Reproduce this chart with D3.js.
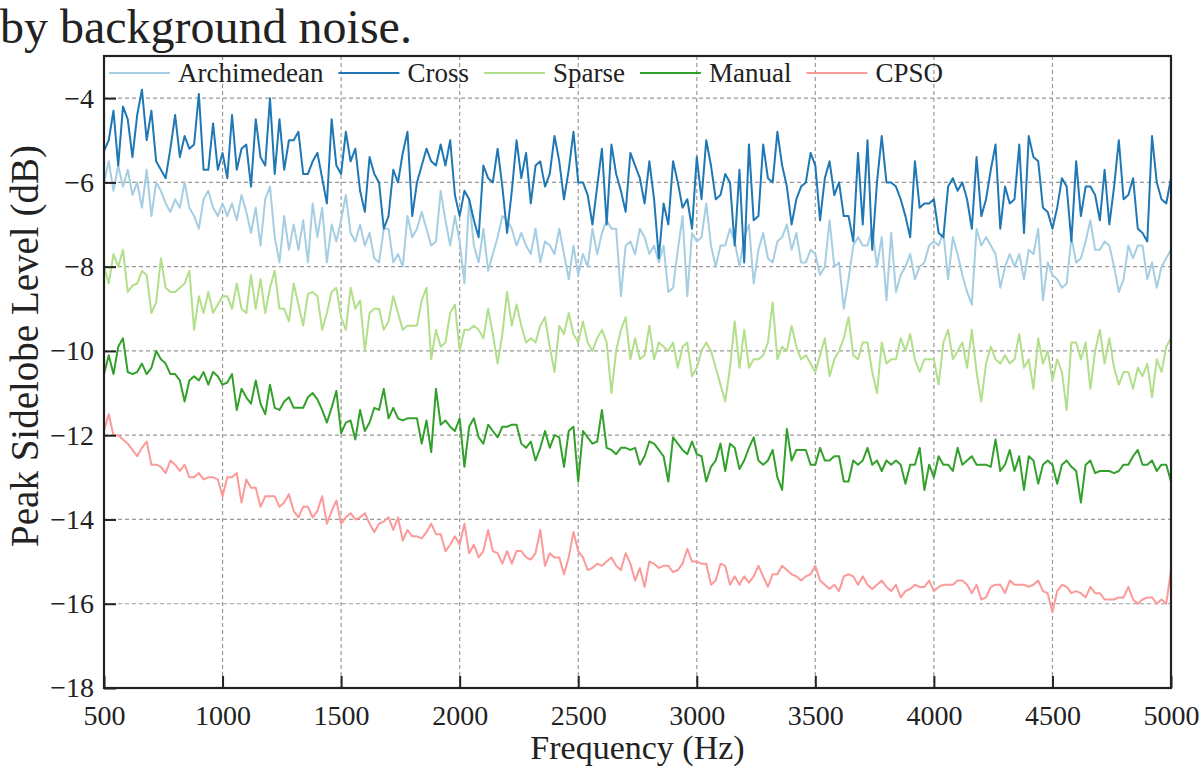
<!DOCTYPE html>
<html>
<head>
<meta charset="utf-8">
<script src="https://cdn.jsdelivr.net/npm/d3@7"></script>
<style>
  html, body { margin: 0; padding: 0; background: #fff; }
  svg { display: block; font-family: "Liberation Serif", "Times New Roman", serif; }
  .grid line { stroke: #9a9a9a; stroke-width: 1.2; stroke-dasharray: 4,3; }
  .axis text { fill: #222; font-size: 28px; font-family: "Liberation Serif", "Times New Roman", serif; }
  .axis line { stroke: #222; stroke-width: 2; }
  .axis path { display: none; }
</style>
</head>
<body>
<svg id="chart"></svg>
<script>
// Frequency sampling: 500 Hz to 5000 Hz, one point every 20 Hz
const F_START = 500;
const F_END   = 5000;
const F_STEP  = 20;

const SERIES_NAMES  = ["Archimedean", "Cross", "Sparse", "Manual", "CPSO"];
const SERIES_COLORS = ["#a6cee3", "#1f78b4", "#b2df8a", "#33a02c", "#fb9a99"];

const X_TICKS = [500, 1000, 1500, 2000, 2500, 3000, 3500, 4000, 4500, 5000];
const Y_TICKS = [-18, -16, -14, -12, -10, -8, -6, -4];

// Peak sidelobe level (dB), rows of 200 Hz
const archimedean = [
  -6.0, -5.5, -6.2, -5.6, -6.1, -5.7, -6.3, -6.0, -6.6, -5.7,
  -6.8, -6.0, -6.2, -6.5, -6.7, -6.4, -6.6, -6.0, -6.6, -6.8,
  -7.1, -6.4, -6.2, -6.6, -6.8, -6.5, -6.8, -6.5, -6.9, -6.3,
  -6.7, -7.2, -6.6, -7.5, -6.4, -6.1, -7.3, -7.9, -6.8, -7.6,
  -7.0, -7.6, -6.9, -7.9, -6.5, -7.3, -6.6, -7.9, -7.0, -7.4,
  -6.9, -6.3, -7.2, -7.4, -7.0, -7.5, -7.2, -7.8, -7.9, -7.1,
  -7.1, -7.9, -7.7, -8.0, -6.8, -7.3, -7.1, -6.7, -7.1, -7.5,
  -7.4, -6.2, -6.9, -7.5, -6.8, -7.4, -8.4, -6.4, -7.5, -7.9,
  -7.1, -8.1, -7.7, -7.3, -6.8, -6.9, -7.1, -7.5, -7.2, -7.5,
  -7.7, -7.1, -7.9, -7.4, -7.5, -7.7, -7.1, -7.7, -8.3, -7.5,
  -8.2, -7.7, -8.0, -7.1, -7.7, -7.2, -6.9, -7.1, -7.1, -8.7,
  -7.5, -7.4, -7.7, -7.1, -7.3, -7.7, -7.5, -7.9, -7.5, -8.6,
  -8.5, -7.6, -6.8, -8.7, -7.2, -7.4, -7.3, -6.5, -7.5, -8.0,
  -7.5, -7.5, -7.1, -7.4, -8.0, -7.3, -7.0, -8.4, -7.6, -7.2,
  -7.8, -7.9, -7.4, -7.3, -7.0, -7.6, -7.2, -7.9, -7.9, -7.6,
  -7.7, -8.2, -8.0, -6.9, -8.0, -7.9, -9.0, -8.3, -7.5, -7.3,
  -7.5, -7.5, -7.1, -8.0, -7.3, -8.8, -7.2, -8.6, -8.2, -8.0,
  -7.7, -8.3, -8.0, -7.9, -7.5, -7.4, -7.5, -7.2, -8.3, -7.3,
  -7.7, -8.2, -8.6, -8.9, -7.1, -7.5, -7.3, -7.5, -7.7, -8.5,
  -8.0, -7.7, -8.0, -7.7, -8.3, -7.6, -7.7, -7.1, -8.8, -7.9,
  -8.2, -8.3, -8.5, -8.4, -7.3, -7.9, -7.8, -7.4, -6.9, -7.6,
  -7.6, -7.4, -7.5, -8.0, -8.6, -8.3, -7.5, -7.8, -7.5, -7.5,
  -8.3, -7.9, -8.5, -8.0, -7.8, -7.6
];

const cross = [
  -5.25, -5.0, -4.3, -5.6, -4.2, -4.5, -5.4, -4.4, -3.8, -5.0,
  -4.3, -5.5, -5.7, -5.9, -5.2, -4.4, -5.4, -4.9, -5.2, -5.1,
  -3.9, -5.7, -5.7, -4.6, -5.7, -5.3, -5.9, -4.4, -5.7, -5.2,
  -5.1, -6.1, -4.5, -5.4, -5.6, -4.0, -5.8, -4.5, -5.7, -5.0,
  -5.0, -4.8, -5.8, -5.8, -5.5, -5.3, -5.9, -6.5, -4.5, -5.6,
  -5.8, -4.8, -5.5, -5.2, -6.2, -6.7, -5.4, -5.8, -6.0, -7.1,
  -6.8, -5.7, -6.0, -5.3, -4.8, -6.8, -6.0, -5.6, -5.2, -5.5,
  -5.6, -5.1, -5.6, -5.0, -6.3, -6.8, -6.2, -6.4, -6.9, -7.3,
  -5.6, -5.9, -6.0, -5.2, -6.1, -7.2, -6.2, -5.0, -5.9, -5.3,
  -6.5, -5.6, -5.5, -6.1, -5.8, -4.9, -5.5, -6.4, -5.7, -4.8,
  -6.0, -6.0, -6.3, -7.0, -6.1, -5.2, -7.0, -5.1, -5.8, -6.2,
  -6.7, -5.3, -5.6, -5.9, -6.5, -5.5, -6.4, -7.8, -6.5, -7.0,
  -5.5, -6.0, -6.6, -6.4, -7.1, -5.4, -6.4, -5.0, -5.6, -6.4,
  -6.3, -5.8, -6.0, -7.5, -5.7, -7.9, -5.1, -6.9, -6.8, -5.1,
  -5.9, -6.0, -4.8, -5.6, -6.1, -7.0, -6.4, -6.1, -6.0, -5.3,
  -5.6, -6.9, -5.9, -5.5, -6.3, -6.0, -6.8, -6.8, -7.4, -5.3,
  -7.0, -5.0, -7.6, -6.0, -4.9, -6.0, -6.0, -6.1, -6.4, -6.8,
  -7.3, -5.5, -6.6, -6.5, -6.5, -6.4, -7.2, -7.3, -6.1, -5.9,
  -6.2, -6.0, -6.4, -7.1, -5.4, -6.8, -6.4, -5.7, -5.1, -7.1,
  -6.1, -6.5, -6.4, -5.1, -7.2, -4.9, -5.4, -5.5, -6.6, -6.7,
  -7.1, -6.6, -5.9, -6.1, -7.4, -5.5, -6.8, -6.1, -6.1, -6.3,
  -6.9, -5.7, -7.0, -6.1, -5.0, -6.4, -6.3, -5.9, -7.1, -7.2,
  -7.4, -4.9, -6.0, -6.4, -6.5, -5.9
];

const sparse = [
  -8.0, -8.4, -7.7, -8.0, -7.6, -8.6, -8.45, -8.4, -8.1, -8.2,
  -9.1, -8.85, -7.8, -8.5, -8.6, -8.6, -8.5, -8.4, -8.1, -9.5,
  -8.7, -9.1, -8.6, -9.1, -8.9, -8.7, -8.7, -9.0, -8.4, -9.0,
  -9.1, -8.2, -9.0, -8.3, -9.1, -8.5, -8.1, -9.0, -9.0, -9.3,
  -8.4, -8.9, -9.4, -8.65, -8.6, -8.7, -9.5, -9.1, -8.6, -8.5,
  -9.2, -9.5, -8.5, -9.0, -8.8, -10.0, -9.1, -9.0, -9.0, -9.5,
  -9.3, -8.7, -9.1, -9.5, -9.4, -9.4, -9.4, -8.8, -8.5, -10.2,
  -9.5, -9.9, -9.8, -9.1, -8.9, -10.0, -9.5, -9.5, -9.4, -9.5,
  -9.7, -9.0, -9.6, -10.3, -9.6, -8.6, -9.4, -8.9, -9.4, -9.8,
  -9.7, -9.8, -9.4, -9.2, -9.9, -10.5, -9.4, -9.6, -9.1, -9.6,
  -9.8, -9.3, -9.8, -10.0, -9.7, -9.5, -9.8, -11.0, -10.0, -9.5,
  -9.2, -10.2, -9.7, -10.2, -10.1, -9.4, -10.2, -9.8, -9.9, -10.0,
  -9.8, -10.4, -9.9, -9.8, -10.6, -10.4, -10.0, -9.8, -10.0, -10.4,
  -10.8, -11.2, -10.4, -9.3, -10.4, -9.5, -10.4, -10.2, -10.2, -10.1,
  -9.8, -8.85, -10.2, -9.9, -10.0, -9.4, -9.9, -10.2, -10.1, -10.3,
  -10.5, -10.1, -9.7, -10.6, -10.2, -10.0, -9.7, -9.2, -10.1, -10.2,
  -9.8, -9.8, -10.5, -11.0, -9.8, -10.3, -10.2, -10.2, -9.7, -10.0,
  -9.6, -10.2, -10.5, -10.2, -10.2, -10.2, -10.8, -9.8, -9.5, -10.2,
  -10.0, -9.8, -10.4, -9.5, -10.5, -11.2, -10.3, -9.9, -10.2, -10.3,
  -10.1, -10.3, -10.2, -9.6, -10.4, -10.2, -10.9, -9.7, -10.3, -10.0,
  -10.7, -10.2, -10.5, -11.4, -9.8, -9.8, -10.2, -9.8, -10.9, -10.0,
  -9.5, -10.3, -9.7, -10.4, -10.8, -10.5, -10.5, -10.9, -10.4, -10.6,
  -10.3, -11.1, -10.2, -10.5, -9.9, -9.7
];

const manual = [
  -10.55, -10.1, -10.55, -9.9, -9.7, -10.5, -10.55, -10.5, -10.3, -10.55,
  -10.4, -10.0, -10.2, -10.3, -10.55, -10.55, -10.7, -11.2, -10.7, -10.6,
  -10.7, -10.5, -10.8, -10.5, -10.6, -10.8, -10.75, -10.55, -11.4, -10.9,
  -11.1, -11.25, -10.7, -11.25, -11.5, -10.8, -11.35, -11.4, -11.2, -11.1,
  -11.35, -11.35, -11.35, -11.1, -11.0, -11.15, -11.4, -11.7, -11.35, -10.95,
  -11.95, -11.7, -11.65, -12.1, -11.4, -11.9, -11.7, -11.35, -11.4, -10.9,
  -11.6, -11.35, -11.6, -11.65, -11.6, -11.6, -11.6, -12.2, -11.65, -12.4,
  -10.9, -11.75, -11.65, -11.8, -11.9, -11.6, -12.75, -11.8, -11.6, -12.05,
  -12.2, -11.75, -11.9, -12.05, -11.8, -11.8, -11.75, -11.75, -12.2, -12.3,
  -12.15, -12.6, -12.3, -11.9, -12.3, -12.0, -12.05, -12.75, -11.9, -11.8,
  -13.1, -11.9, -12.05, -12.2, -12.15, -11.4, -12.3, -12.35, -12.45, -12.3,
  -12.3, -12.35, -12.3, -12.7, -12.5, -12.15, -12.2, -12.35, -12.5, -13.1,
  -12.05, -12.2, -12.35, -12.45, -12.15, -12.45, -12.5, -13.1, -12.75, -12.6,
  -12.2, -12.85, -12.2, -12.3, -12.8, -12.6, -12.3, -12.05, -12.6, -12.7,
  -12.6, -12.35, -13.0, -13.3, -11.85, -12.6, -12.35, -12.35, -12.35, -12.7,
  -12.7, -12.3, -12.6, -12.6, -12.5, -12.5, -13.1, -13.1, -12.6, -12.7,
  -12.6, -12.3, -12.7, -12.6, -12.85, -12.6, -12.7, -12.6, -12.7, -13.15,
  -12.7, -12.7, -12.3, -13.3, -12.7, -13.0, -12.5, -12.7, -12.7, -12.85,
  -12.3, -12.7, -12.6, -12.5, -12.7, -12.7, -12.7, -12.75, -12.1, -12.85,
  -12.7, -12.35, -12.85, -12.5, -13.3, -12.5, -12.6, -13.15, -12.7, -12.6,
  -12.7, -13.15, -12.7, -12.6, -12.75, -12.85, -13.6, -12.7, -12.6, -12.9,
  -12.85, -12.85, -12.85, -12.9, -12.85, -12.7, -12.7, -12.5, -12.35, -12.7,
  -12.7, -12.6, -12.85, -12.7, -12.7, -13.1
];

const cpso = [
  -11.9, -11.5, -12.0, -12.0, -12.1, -12.2, -12.35, -12.5, -12.3, -12.15,
  -12.7, -12.7, -12.75, -12.9, -12.6, -12.7, -12.85, -12.7, -13.0, -13.0,
  -12.9, -13.05, -13.0, -13.0, -13.05, -13.45, -13.0, -13.0, -12.9, -13.6,
  -13.05, -13.25, -13.25, -13.7, -13.45, -13.45, -13.45, -13.7, -13.6, -13.4,
  -13.8, -13.95, -13.7, -13.7, -13.95, -13.8, -13.45, -14.1, -13.8, -13.55,
  -14.1, -13.95, -13.85, -14.0, -13.95, -13.85, -14.1, -14.3, -14.1, -14.05,
  -13.95, -14.25, -13.95, -14.5, -14.25, -14.4, -14.4, -14.45, -14.3, -14.1,
  -14.35, -14.35, -14.75, -14.6, -14.4, -14.6, -14.1, -14.8, -14.6, -14.9,
  -14.75, -14.25, -14.75, -14.8, -15.05, -14.75, -15.05, -14.75, -14.75, -14.9,
  -14.95, -14.8, -14.25, -15.1, -14.8, -14.9, -14.9, -15.3, -14.9, -14.3,
  -14.75, -14.9, -15.2, -15.15, -15.05, -15.1, -15.0, -14.9, -15.1, -15.2,
  -14.8, -15.05, -15.45, -15.15, -15.6, -15.0, -15.05, -15.15, -15.1, -15.1,
  -15.25, -15.2, -15.05, -14.7, -15.0, -15.0, -15.05, -15.05, -15.55, -15.45,
  -15.05, -15.1, -15.55, -15.35, -15.55, -15.35, -15.5, -15.35, -15.1, -15.35,
  -15.6, -15.3, -15.3, -15.1, -15.2, -15.3, -15.35, -15.45, -15.35, -15.3,
  -15.1, -15.45, -15.55, -15.65, -15.55, -15.7, -15.35, -15.3, -15.35, -15.55,
  -15.35, -15.55, -15.65, -15.55, -15.45, -15.6, -15.7, -15.55, -15.85, -15.7,
  -15.65, -15.55, -15.6, -15.6, -15.45, -15.7, -15.6, -15.55, -15.55, -15.55,
  -15.45, -15.45, -15.55, -15.75, -15.55, -15.9, -15.85, -15.6, -15.55, -15.55,
  -15.75, -15.45, -15.55, -15.55, -15.55, -15.6, -15.55, -15.45, -15.7, -15.75,
  -16.2, -15.7, -15.55, -15.6, -15.75, -15.7, -15.75, -15.85, -15.6, -15.75,
  -15.75, -15.9, -15.9, -15.9, -15.85, -15.85, -15.6, -15.9, -16.0, -15.9,
  -15.85, -15.85, -16.0, -15.9, -16.0, -15.2
];

const SERIES_VALUES = [archimedean, cross, sparse, manual, cpso];

const SVG_W = 1200;
const SVG_H = 769;
const PLOT = { left: 104, right: 1171, top: 56, bottom: 688 };

const FONT = '"Liberation Serif", "Times New Roman", serif';

const freqs = d3.range(F_START, F_END + 1, F_STEP);

const x = d3.scaleLinear().domain([F_START, F_END]).range([PLOT.left, PLOT.right]);
const y = d3.scaleLinear().domain([-18, -3]).range([PLOT.bottom, PLOT.top]);

const svg = d3.select("#chart")
  .attr("width", SVG_W)
  .attr("height", SVG_H)
  .attr("viewBox", `0 0 ${SVG_W} ${SVG_H}`);

svg.append("rect").attr("width", SVG_W).attr("height", SVG_H).attr("fill", "#fff");

// caption fragment above the plot
svg.append("text")
  .attr("x", 0)
  .attr("y", 43)
  .attr("font-family", FONT)
  .attr("font-size", 48)
  .attr("fill", "#222")
  .text("by background noise.");

// grid
const grid = svg.append("g").attr("class", "grid");
grid.selectAll("line.gx")
  .data(X_TICKS.slice(1, -1))
  .enter().append("line")
  .attr("class", "gx")
  .attr("x1", (d) => x(d)).attr("x2", (d) => x(d))
  .attr("y1", PLOT.top).attr("y2", PLOT.bottom);
grid.selectAll("line.gy")
  .data(Y_TICKS.slice(1))
  .enter().append("line")
  .attr("class", "gy")
  .attr("x1", PLOT.left).attr("x2", PLOT.right)
  .attr("y1", (d) => y(d)).attr("y2", (d) => y(d));

// series
const line = d3.line()
  .x((d) => x(d[0]))
  .y((d) => y(d[1]));

const lines = svg.append("g").attr("fill", "none").attr("stroke-linejoin", "round");
SERIES_NAMES.forEach((name, i) => {
  const pts = SERIES_VALUES[i].map((v, j) => [freqs[j], v]);
  lines.append("path")
    .datum(pts)
    .attr("d", line)
    .attr("stroke", SERIES_COLORS[i])
    .attr("stroke-width", 2);
});

// axes (ticks pointing inward)
svg.append("g")
  .attr("class", "axis")
  .attr("transform", `translate(0,${PLOT.bottom})`)
  .call(d3.axisBottom(x).tickValues(X_TICKS).tickSize(-12).tickPadding(17).tickFormat(d3.format("d")));

svg.append("g")
  .attr("class", "axis")
  .attr("transform", `translate(${PLOT.left},0)`)
  .call(d3.axisLeft(y).tickValues(Y_TICKS).tickSize(-12).tickPadding(10));

// frame
svg.append("rect")
  .attr("x", PLOT.left).attr("y", PLOT.top)
  .attr("width", PLOT.right - PLOT.left)
  .attr("height", PLOT.bottom - PLOT.top)
  .attr("fill", "none")
  .attr("stroke", "#222")
  .attr("stroke-width", 2.2);

// axis titles
svg.append("text")
  .attr("x", (PLOT.left + PLOT.right) / 2)
  .attr("y", 759)
  .attr("text-anchor", "middle")
  .attr("font-family", FONT)
  .attr("font-size", 34)
  .attr("fill", "#222")
  .text("Frequency (Hz)");

svg.append("text")
  .attr("transform", "translate(38,346) rotate(-90)")
  .attr("text-anchor", "middle")
  .attr("font-family", FONT)
  .attr("font-size", 39)
  .attr("fill", "#222")
  .text("Peak Sidelobe Level (dB)");

// legend, one row along the top of the plot
const legend = svg.append("g");
let lx = 109;
const ly = 73;
SERIES_NAMES.forEach((name, i) => {
  legend.append("line")
    .attr("x1", lx).attr("x2", lx + 61)
    .attr("y1", ly).attr("y2", ly)
    .attr("stroke", SERIES_COLORS[i])
    .attr("stroke-width", 2);
  const t = legend.append("text")
    .attr("x", lx + 69)
    .attr("y", ly)
    .attr("dy", "0.35em")
    .attr("font-family", FONT)
    .attr("font-size", 27)
    .attr("fill", "#222")
    .text(name);
  lx += 69 + t.node().getComputedTextLength() + 15;
});
</script>
</body>
</html>
